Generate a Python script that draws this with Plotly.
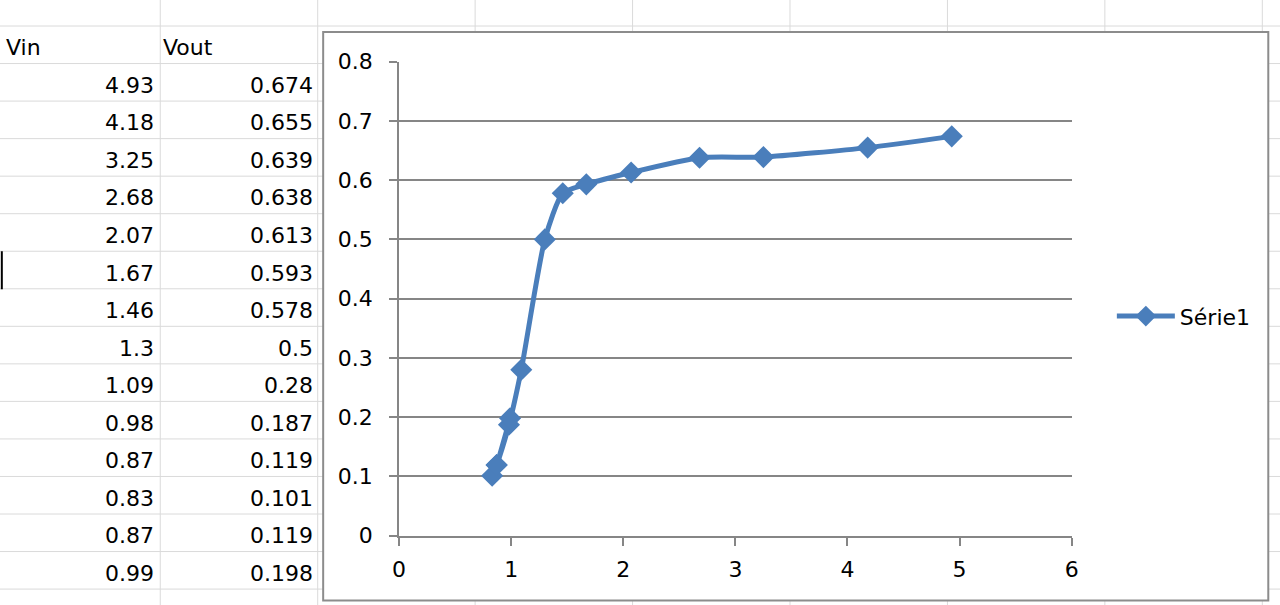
import plotly.graph_objects as go

# ---- data ----
vin = [4.93, 4.18, 3.25, 2.68, 2.07, 1.67, 1.46, 1.3, 1.09, 0.98, 0.87, 0.83, 0.87, 0.99]
vout = [0.674, 0.655, 0.639, 0.638, 0.613, 0.593, 0.578, 0.5, 0.28, 0.187, 0.119, 0.101, 0.119, 0.198]
col_headers = ["Vin", "Vout"]
series_name = "Série1"
x_ticks = [0, 1, 2, 3, 4, 5, 6]
y_ticks = [0, 0.1, 0.2, 0.3, 0.4, 0.5, 0.6, 0.7, 0.8]

W, H = 1280, 605
BLUE = "#4a7ebb"
GRIDC = "#868686"
CELLC = "#dadada"
FONT = "DejaVu Sans"
FS = 22

# empirical compensation of the rendered frame
AX, BX = 0.9926, 4.2
AY, BY = 0.9577, 13.0


def px(x):
    return ((x - BX) / AX) / W


def py(y):
    return 1 - ((y - BY) / AY) / H


fig = go.Figure()
fig.add_trace(go.Scatter(
    x=vin, y=vout, mode="lines+markers", name=series_name,
    line=dict(color=BLUE, width=5, shape="spline", smoothing=0.6),
    marker=dict(symbol="diamond", size=17, color=BLUE),
))

shapes = []
annotations = []

# spreadsheet grid (background)
row0 = 27.0
rh = 37.5
cw = 158.0
for i in range(16):
    y = row0 + rh * i
    shapes.append(dict(type="line", xref="paper", yref="paper", x0=-0.05, x1=1.05,
                       y0=py(y), y1=py(y), line=dict(color=CELLC, width=1), layer="below"))
for j in range(1, 9):
    x = cw * j
    shapes.append(dict(type="line", xref="paper", yref="paper", x0=px(x), x1=px(x),
                       y0=-0.05, y1=1.05, line=dict(color=CELLC, width=1), layer="below"))
# white chart box with border
shapes.append(dict(type="rect", xref="paper", yref="paper", x0=px(321.5), x1=px(1270),
                   y0=py(601), y1=py(33), fillcolor="white",
                   line=dict(color="#8c8c8c", width=2), layer="below"))
# small cursor mark at left edge
shapes.append(dict(type="line", xref="paper", yref="paper", x0=px(-1), x1=px(-1),
                   y0=py(252), y1=py(290), line=dict(color="black", width=2)))

# table text
for k, xx in enumerate([1, 159]):
    annotations.append(dict(text=col_headers[k], x=px(xx), y=py(48), xref="paper", yref="paper",
                            xanchor="left", yanchor="middle", showarrow=False,
                            font=dict(family=FONT, size=FS, color="black")))
for i, (a, b) in enumerate(zip(vin, vout)):
    yc = row0 + rh * (i + 1) + rh / 2 + 3
    annotations.append(dict(text=repr(a), x=px(154), y=py(yc), xref="paper", yref="paper",
                            xanchor="right", yanchor="middle", showarrow=False,
                            font=dict(family=FONT, size=FS, color="black")))
    annotations.append(dict(text=repr(b), x=px(313), y=py(yc), xref="paper", yref="paper",
                            xanchor="right", yanchor="middle", showarrow=False,
                            font=dict(family=FONT, size=FS, color="black")))

x0p, x1p = 397.7, 1072.7
y0p, y1p = 536.0, 62.7

fig.update_layout(
    width=W, height=H,
    margin=dict(l=0, r=0, t=0, b=0),
    paper_bgcolor="white", plot_bgcolor="rgba(0,0,0,0)",
    shapes=shapes, annotations=annotations,
    font=dict(family=FONT, size=FS, color="black"),
    showlegend=True,
    legend=dict(x=px(1113), y=py(317), xanchor="left", yanchor="middle",
                bgcolor="rgba(0,0,0,0)", itemwidth=58,
                font=dict(family=FONT, size=FS, color="black")),
    xaxis=dict(domain=[px(x0p), px(x1p)], range=[0, 6], tickvals=x_ticks,
               showgrid=False, zeroline=False, showline=True, linecolor=GRIDC, linewidth=2,
               ticks="outside", ticklen=8, tickcolor=GRIDC, tickwidth=2,
               ticklabelstandoff=5,
               tickfont=dict(family=FONT, size=FS, color="black"), fixedrange=True),
    yaxis=dict(domain=[py(y0p), py(y1p)], range=[0, 0.8], tickvals=y_ticks,
               showgrid=True, gridcolor=GRIDC, gridwidth=2, zeroline=False,
               showline=True, linecolor=GRIDC, linewidth=2,
               ticks="outside", ticklen=8, tickcolor=GRIDC, tickwidth=2,
               ticklabelstandoff=12,
               tickfont=dict(family=FONT, size=FS, color="black"), fixedrange=True),
)

fig.write_html("out.html", config={"displayModeBar": False},
               post_script="document.body.style.margin='0';document.body.style.overflow='hidden';")
